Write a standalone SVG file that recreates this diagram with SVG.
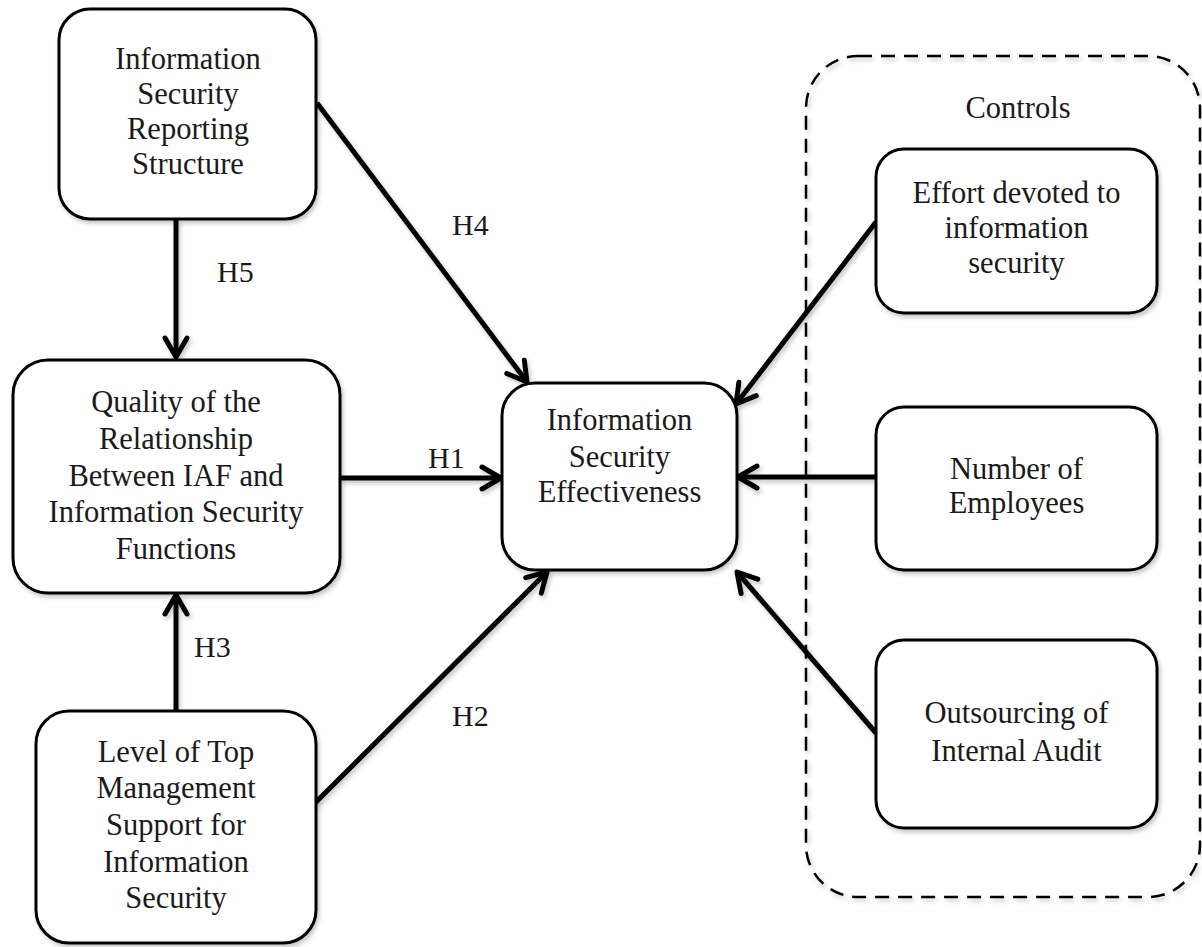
<svg xmlns="http://www.w3.org/2000/svg" width="1202" height="947" viewBox="0 0 1202 947">
<style>
.box{fill:#fff;stroke:#000;stroke-width:3}
.t{font-family:"Liberation Serif","Times New Roman",serif;font-size:30.5px;fill:#1a1a1a;text-anchor:middle}
.lbl{font-family:"Liberation Serif","Times New Roman",serif;font-size:30px;fill:#1a1a1a}
.c{fill:none;stroke:#000;stroke-width:5;marker-end:url(#ah)}
.dash{fill:none;stroke:#000;stroke-width:2.5;stroke-dasharray:14 9}
</style>
<defs>
<filter id="sh" x="-10%" y="-10%" width="130%" height="130%">
<feDropShadow dx="2" dy="3" stdDeviation="2" flood-color="#000" flood-opacity="0.22"/>
</filter>
<marker id="ah" viewBox="-26 -16 30 32" refX="0" refY="0" markerWidth="30" markerHeight="32" markerUnits="userSpaceOnUse" orient="auto">
<path d="M-19,-11 L0,0 L-19,11" fill="none" stroke="#000" stroke-width="5" stroke-linecap="round" stroke-linejoin="round"/>
</marker>
</defs>
<rect x="0" y="0" width="1202" height="947" fill="#fff"/>

<g id="controls">
<rect class="dash" x="806" y="56" width="394" height="841" rx="52" filter="url(#sh)"/>
<text class="t" x="1018" y="118">Controls</text>
</g>

<g id="connectors">
<g filter="url(#sh)">
<line class="c" x1="317" y1="103" x2="527" y2="382"/>
<line class="c" x1="176" y1="219" x2="176" y2="357"/>
<line class="c" x1="340" y1="478" x2="501" y2="478"/>
<line class="c" x1="176" y1="711" x2="176" y2="595"/>
<line class="c" x1="315" y1="803" x2="547" y2="572"/>
<line class="c" x1="876" y1="222" x2="736" y2="404"/>
<line class="c" x1="876" y1="477" x2="738" y2="477"/>
<line class="c" x1="876" y1="733" x2="737" y2="572"/>
</g>
<text class="lbl" x="452" y="235">H4</text>
<text class="lbl" x="217" y="282">H5</text>
<text class="lbl" x="428" y="468">H1</text>
<text class="lbl" x="194" y="657">H3</text>
<text class="lbl" x="452" y="726">H2</text>
</g>

<g id="reporting">
<rect class="box" x="59" y="9" width="257" height="210" rx="31" filter="url(#sh)"/>
<text class="t" x="188" y="69">Information</text>
<text class="t" x="188" y="104">Security</text>
<text class="t" x="188" y="139">Reporting</text>
<text class="t" x="188" y="174">Structure</text>
</g>

<g id="quality">
<rect class="box" x="13" y="360" width="327" height="233" rx="35" filter="url(#sh)"/>
<text class="t" x="176" y="412">Quality of the</text>
<text class="t" x="176" y="449">Relationship</text>
<text class="t" x="176" y="486">Between IAF and</text>
<text class="t" x="176" y="522">Information Security</text>
<text class="t" x="176" y="559">Functions</text>
</g>

<g id="support">
<rect class="box" x="36" y="711" width="280" height="232" rx="33" filter="url(#sh)"/>
<text class="t" x="176" y="762">Level of Top</text>
<text class="t" x="176" y="798">Management</text>
<text class="t" x="176" y="835">Support for</text>
<text class="t" x="176" y="872">Information</text>
<text class="t" x="176" y="908">Security</text>
</g>

<g id="effectiveness">
<rect class="box" x="502" y="383" width="235" height="187" rx="33" filter="url(#sh)"/>
<text class="t" x="619.5" y="430">Information</text>
<text class="t" x="619.5" y="467">Security</text>
<text class="t" x="619.5" y="502">Effectiveness</text>
</g>

<g id="effort">
<rect class="box" x="876" y="149" width="281" height="164" rx="28" filter="url(#sh)"/>
<text class="t" x="1016.5" y="203">Effort devoted to</text>
<text class="t" x="1016.5" y="238">information</text>
<text class="t" x="1016.5" y="273">security</text>
</g>

<g id="employees">
<rect class="box" x="876" y="407" width="281" height="163" rx="28" filter="url(#sh)"/>
<text class="t" x="1016.5" y="479">Number of</text>
<text class="t" x="1016.5" y="513">Employees</text>
</g>

<g id="outsourcing">
<rect class="box" x="876" y="640" width="281" height="188" rx="28" filter="url(#sh)"/>
<text class="t" x="1016.5" y="723">Outsourcing of</text>
<text class="t" x="1016.5" y="761">Internal Audit</text>
</g>
</svg>
